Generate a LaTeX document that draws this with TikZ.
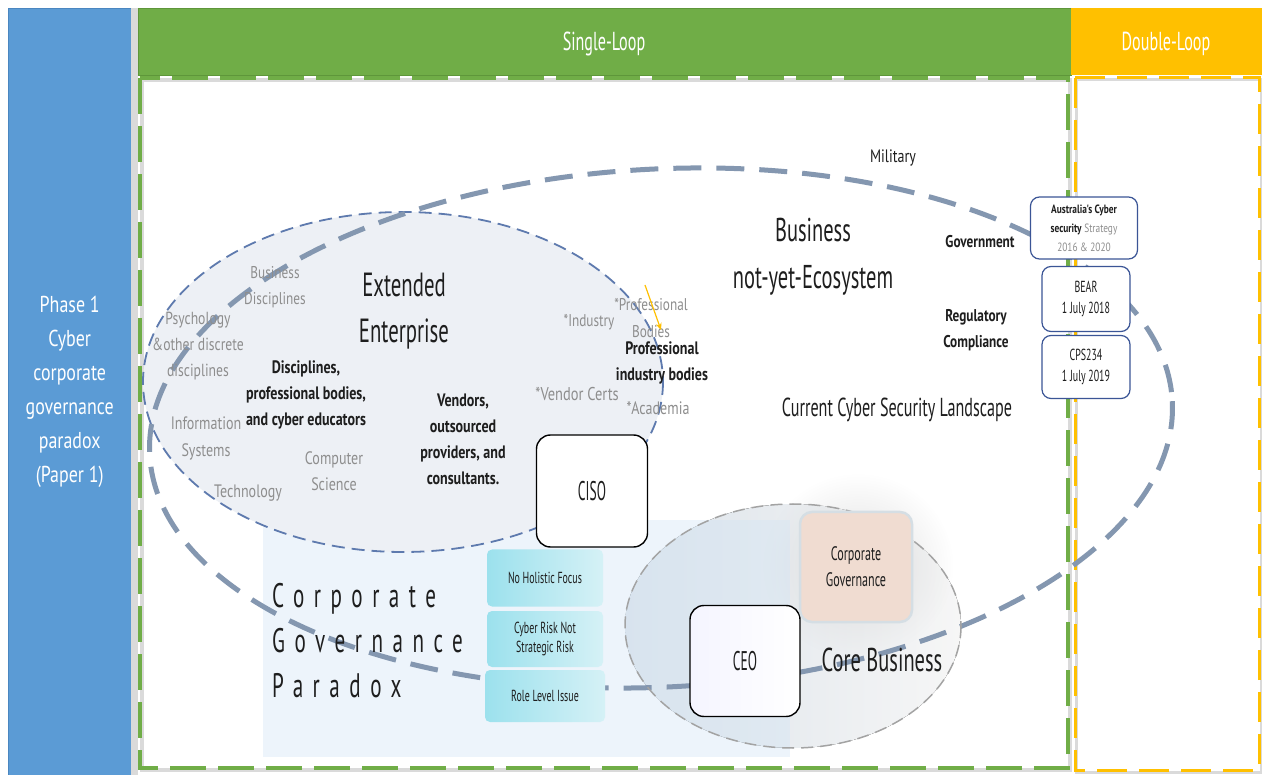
\documentclass[tikz,border=0pt]{standalone}
\usepackage{fontspec}
\setmainfont[FakeStretch=0.62]{PT Sans}
\newfontfamily\widefont[FakeStretch=0.78]{PT Sans}
\newfontfamily\narrowfont[FakeStretch=0.5]{PT Sans}
\usetikzlibrary{fadings,arrows.meta}

\definecolor{phaseblue}{HTML}{5B9BD5}
\definecolor{phaseedge}{HTML}{4A86C0}
\definecolor{loopgreen}{HTML}{70AD47}
\definecolor{loopgreenedge}{HTML}{5E963A}
\definecolor{loopyellow}{HTML}{FFC000}
\definecolor{frameshadow}{HTML}{DADADA}
\definecolor{bigring}{HTML}{8497B0}
\definecolor{smallring}{HTML}{5E7AAE}
\definecolor{enterprisefill}{HTML}{EDF0F5}
\definecolor{paradoxfill}{HTML}{D3E5F5}
\definecolor{coreleft}{HTML}{DCE3EA}
\definecolor{coreright}{HTML}{F6F6F6}
\definecolor{coreedge}{HTML}{A3A3A3}
\definecolor{govfill}{HTML}{F0DCD1}
\definecolor{govedge}{HTML}{D5DEE4}
\definecolor{tealdark}{HTML}{9CE1ED}
\definecolor{teallight}{HTML}{D5F1F6}
\definecolor{softgray}{HTML}{8E8E8E}
\definecolor{inkblack}{HTML}{1E1E1E}
\definecolor{policyedge}{HTML}{3B5596}

\tikzfading[name=glowfade, inner color=transparent!0, outer color=transparent!100]

\newcommand\fsz[2]{\fontsize{#1}{#2}\selectfont}

\begin{document}
\begin{tikzpicture}[x=1pt,y=-1pt,
  lbl/.style={inner sep=0pt, align=center, text=inkblack},
  soft/.style={lbl, text=softgray},
  headbar/.style={anchor=north west, inner sep=0pt},
  headtext/.style={inner sep=0pt, text=white, font=\fsz{26}{30}},
  roleBox/.style={draw=black, line width=1.4pt, rounded corners=14pt, inner sep=0pt, text=inkblack},
  issueBox/.style={left color=tealdark, right color=teallight, rounded corners=5pt,
    inner sep=0pt, align=center, text=inkblack, font=\fsz{16}{19}},
  policyBox/.style={draw=policyedge, line width=1.2pt, fill=white, rounded corners=9pt,
    inner sep=0pt, align=center, text=inkblack},
  bigdash/.style={draw=bigring, line width=5pt, dash pattern=on 28pt off 15pt},
  smalldash/.style={draw=smallring, line width=1.8pt, dash pattern=on 13pt off 7pt},
  coredash/.style={draw=coreedge, line width=1.5pt, dash pattern=on 12pt off 7pt},
]
\useasboundingbox (0,0) rectangle (1262,775);
\fill[white] (0,0) rectangle (1262,775);

% ---- phase column and loop headers
\node[headbar, fill=phaseblue, draw=phaseedge, minimum width=123, minimum height=767,
      align=center, text=white, font=\widefont\fsz{23}{34}] (phase) at (8,8)
  {Phase 1\\Cyber\\corporate\\governance\\paradox\\(Paper 1)};
\fill[frameshadow] (131,8) rectangle (138,775);
\node[headbar, fill=loopgreen, draw=loopgreenedge, minimum width=933, minimum height=67] (single) at (138,8) {};
\node[headbar, fill=loopyellow, minimum width=191, minimum height=67] (double) at (1071,8) {};
\node[headtext] (singletext) at (604,44) {Single-Loop};
\node[headtext] (doubletext) at (1166,44) {Double-Loop};

% ---- dashed frames
\draw[frameshadow, line width=4pt] (142,80) rectangle (1070,770);
\draw[loopgreen, line width=4pt, dash pattern=on 36pt off 12pt] (140,78) rectangle (1068,768);
\draw[frameshadow, line width=3pt] (1076,80) rectangle (1261,772);
\draw[loopyellow, line width=3pt, dash pattern=on 30pt off 12pt] (1075,78) rectangle (1259,770);

% ---- core business area and paradox band
\fill[left color=coreleft, right color=coreright] (793,626) ellipse [x radius=168, y radius=122];
\fill[black!13, path fading=glowfade] (858,566) ellipse [x radius=95, y radius=92];
\fill[paradoxfill, opacity=0.4] (263,520) rectangle (790,757);

% ---- extended enterprise ring
\fill[enterprisefill] (403,382) ellipse [x radius=260, y radius=170];
\draw[smalldash] (403,382) ellipse [x radius=260, y radius=170];

% ---- cyber security landscape ring
\draw[bigdash] (661,428) ellipse [x radius=512, y radius=259, rotate=3];

% ---- core business ring
\draw[coredash] (793,626) ellipse [x radius=168, y radius=122];

% ---- landscape labels
\node[lbl, font=\widefont\fsz{18}{20}] (military) at (893,158) {Military};
\node[lbl, font=\fsz{33}{47}] (ecosystem) at (813,257) {Business\\not-yet-Ecosystem};
\node[lbl, font=\widefont\bfseries\fsz{17}{20}] (government) at (980,242) {Government};
\node[lbl, font=\widefont\bfseries\fsz{17}{26}] (regulatory) at (976,330) {Regulatory\\Compliance};
\node[lbl, font=\fsz{26}{28}] (landscape) at (897,410) {Current Cyber Security Landscape};

% ---- extended enterprise labels
\node[lbl, font=\fsz{33.5}{46}] (extended) at (404,311) {Extended\\Enterprise};
\node[soft, font=\widefont\fsz{17}{26}] (busdisc) at (275,287) {Business\\Disciplines};
\node[soft, font=\widefont\fsz{17.5}{26}] (psych) at (198,346) {Psychology\\\&other discrete\\disciplines};
\node[lbl, font=\widefont\bfseries\fsz{18}{26}] (disciplines) at (306,395)
  {Disciplines,\\professional bodies,\\and cyber educators};
\node[soft, font=\widefont\fsz{18}{27}] (infosys) at (206,438) {Information\\Systems};
\node[soft, font=\widefont\fsz{18}{26}] (compsci) at (334,471) {Computer\\Science};
\node[soft, font=\widefont\fsz{18}{20}] (tech) at (248,493) {Technology};
\node[lbl, font=\widefont\bfseries\fsz{18}{26}] (vendors) at (463,439)
  {Vendors,\\outsourced\\providers, and\\consultants.};
\node[soft, font=\widefont\fsz{17}{20}] (industry) at (589,322) {*Industry};
\node[soft, font=\widefont\fsz{17}{27}] (probodies) at (651,318) {*Professional\\Bodies};
\node[lbl, font=\widefont\bfseries\fsz{18}{26}] (proindustry) at (662,363) {Professional\\industry bodies};
\node[soft, font=\widefont\fsz{18.5}{20}] (vendorcerts) at (577,394) {*Vendor Certs};
\node[soft, font=\widefont\fsz{18}{20}] (academia) at (658,408) {*Academia};

\coordinate (pointerstart) at (645,285);
\coordinate (pointerend) at (661,330);
\draw[loopyellow, line width=1.2pt, -{Stealth[length=7pt,width=6pt]}] (pointerstart) -- (pointerend);

% ---- paradox
\node[lbl, anchor=west, align=left, font=\fsz{34}{45}\addfontfeatures{LetterSpace=28}] (paradox)
  at (272,641) {Corporate\\Governance\\Paradox};
\node[issueBox, minimum width=116, minimum height=57] (holistic) at (545,578) {No Holistic Focus};
\node[issueBox, minimum width=116, minimum height=56] (cyberrisk) at (545,639) {Cyber Risk Not\\Strategic Risk};
\node[issueBox, minimum width=120, minimum height=52] (rolelevel) at (545,696) {Role Level Issue};

% ---- roles
\node[roleBox, fill=white, minimum width=111, minimum height=112, font=\narrowfont\fsz{27}{30}] (ciso) at (592,491) {CISO};
\node[roleBox, left color=blue!4, right color=white, minimum width=110, minimum height=111,
      font=\narrowfont\fsz{27}{30}] (ceo) at (745,661) {CEO};
\node[fill=govfill, draw=govedge, line width=2.5pt, rounded corners=12pt, minimum width=112,
      minimum height=110, inner sep=0pt, align=center, text=inkblack, font=\fsz{19.5}{26}]
  (corpgov) at (856,567) {Corporate\\Governance};
\node[lbl, font=\fsz{33}{36}] (corebusiness) at (882,660) {Core Business};

% ---- regulatory instruments
\node[policyBox, minimum width=107, minimum height=62, font=\widefont\fsz{12}{19}] (strategy) at (1084,228)
  {\textbf{Australia's Cyber}\\\textbf{security} \textcolor{softgray}{Strategy}\\\textcolor{softgray}{2016 \& 2020}};
\node[policyBox, minimum width=88, minimum height=65, font=\fsz{16}{21}] (bear) at (1086,299)
  {BEAR\\1 July 2018};
\node[policyBox, minimum width=88, minimum height=63, font=\fsz{16}{21}] (cps) at (1086,367)
  {CPS234\\1 July 2019};
\end{tikzpicture}
\end{document}
